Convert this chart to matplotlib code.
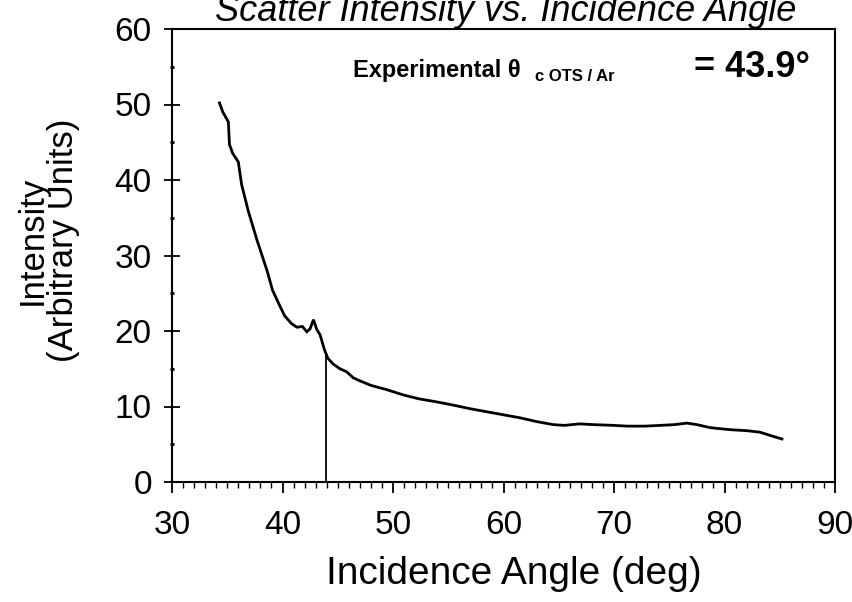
import numpy as np
import matplotlib
matplotlib.use("Agg")
import matplotlib.pyplot as plt
from matplotlib import font_manager
from matplotlib.ticker import MultipleLocator

# Scattered intensity as a function of incidence angle
angle_deg = [34.3, 34.6, 35.1, 35.2, 35.5, 36.0, 36.3, 36.9, 37.7, 38.6,
             39.1, 39.7, 40.2, 40.8, 41.3, 41.8, 42.2, 42.5, 42.8, 43.1,
             43.4, 43.8, 44.1, 44.6, 45.2, 45.8, 46.4, 47.0, 48.0, 49.5,
             51.0, 52.4, 54.0, 55.4, 57.0, 58.5, 60.0, 61.5, 63.0, 64.5,
             65.5, 66.9, 68.1, 70.0, 71.2, 72.8, 74.2, 75.5, 76.6, 77.5,
             78.7, 80.0, 80.8, 82.0, 83.2, 84.5, 85.2]
intensity = [50.2, 49.0, 47.7, 44.7, 43.5, 42.4, 39.4, 35.9, 32.0, 28.0,
             25.4, 23.5, 22.0, 21.0, 20.5, 20.6, 19.9, 20.3, 21.5, 20.2,
             19.5, 17.5, 16.4, 15.6, 15.0, 14.6, 13.8, 13.4, 12.8, 12.2,
             11.5, 11.0, 10.6, 10.2, 9.7, 9.3, 8.9, 8.5, 8.0, 7.6,
             7.5, 7.7, 7.6, 7.5, 7.4, 7.4, 7.5, 7.6, 7.8, 7.6,
             7.2, 7.0, 6.9, 6.8, 6.6, 6.0, 5.7]

critical_angle = 43.9
x_ticks = [30, 40, 50, 60, 70, 80, 90]
y_ticks = [0, 10, 20, 30, 40, 50, 60]

W, H = 852, 602
fig = plt.figure(figsize=(W / 100, H / 100), dpi=100)
plt.rcParams["font.family"] = ["Liberation Sans", "DejaVu Sans"]

# A condensed face for the annotation, if one is installed
try:
    font_manager.findfont("Liberation Sans Narrow", fallback_to_default=False)
    narrow_family, narrow_size = ["Liberation Sans Narrow", "Liberation Sans"], 20
except ValueError:
    narrow_family, narrow_size = ["Liberation Sans", "DejaVu Sans"], 17


def fx(px):
    return px / W


def fy(py):
    return 1 - py / H


left, right, top, bottom = 172, 835, 29, 482
ax = fig.add_axes([fx(left), fy(bottom), (right - left) / W, (bottom - top) / H])

ax.plot(angle_deg, intensity, color="black", lw=2.0, solid_joinstyle="miter")
y_at_crit = np.interp(critical_angle, angle_deg, intensity)
ax.plot([critical_angle, critical_angle], [0, y_at_crit], color="black", lw=1.3)

ax.set_xlim(x_ticks[0], x_ticks[-1])
ax.set_ylim(y_ticks[0], y_ticks[-1])
ax.set_xticks(x_ticks)
ax.set_yticks(y_ticks)
ax.xaxis.set_minor_locator(MultipleLocator(1))
ax.yaxis.set_minor_locator(MultipleLocator(5))

for s in ax.spines.values():
    s.set_linewidth(1.5)

ax.tick_params(axis="x", which="major", direction="out", length=8, width=1.3,
               labelsize=24, pad=12)
ax.tick_params(axis="x", which="minor", direction="out", length=4, width=1.0)
ax.tick_params(axis="y", which="major", direction="inout", length=11, width=1.3,
               labelsize=24, pad=9)
ax.tick_params(axis="y", which="minor", direction="inout", length=3, width=2.0)
ax.tick_params(top=False, right=False, which="both")

# Title (partly above the canvas top)
fig.text(fx(506), fy(21), "Scatter Intensity vs. Incidence Angle", fontsize=26,
         style="italic", ha="center", va="baseline")

# Axis labels
fig.text(fx(514), fy(574), "Incidence Angle (deg)", fontsize=28,
         ha="center", va="center")
fig.text(fx(48), fy(240), "Intensity\n(Arbitrary Units)", fontsize=25,
         rotation=90, ha="center", va="center", multialignment="center",
         linespacing=0.95)

# Critical-angle annotation
fig.text(fx(353), fy(77), "Experimental \u03b8", fontsize=narrow_size,
         family=narrow_family, weight="bold", ha="left", va="baseline")
fig.text(fx(535), fy(81), "c OTS / Ar", fontsize=12, weight="bold",
         ha="left", va="baseline")
fig.text(fx(694), fy(77), "= %.1f\u00b0" % critical_angle, fontsize=26,
         weight="bold", ha="left", va="baseline")

fig.savefig("out.png", dpi=100, facecolor="white")
